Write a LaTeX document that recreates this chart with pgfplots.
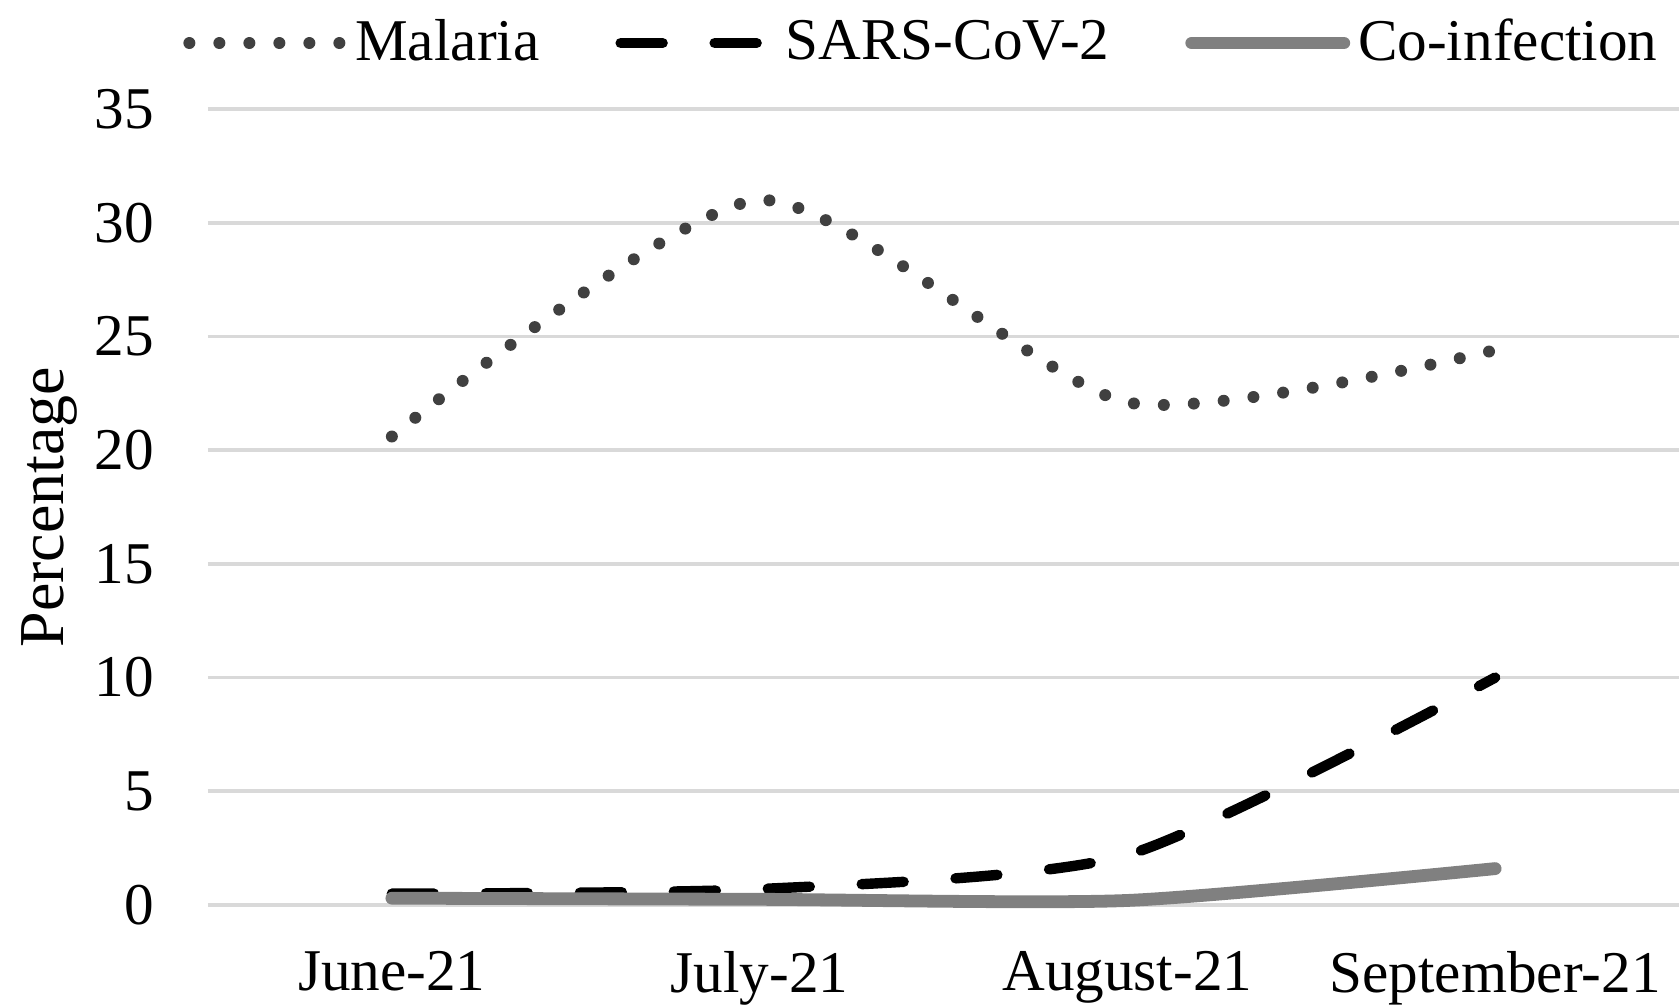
\documentclass[border=0pt]{standalone}
\usepackage{fontspec}
\setmainfont{Liberation Serif}
\usepackage{pgfplots}
\pgfplotsset{compat=1.18}
\definecolor{malcol}{RGB}{64,64,64}
\definecolor{cocol}{RGB}{128,128,128}
\definecolor{gridcol}{RGB}{217,217,217}
\begin{document}
\begin{tikzpicture}
\useasboundingbox (-52pt,-25pt) rectangle (367.75pt,226.25pt);
\begin{axis}[
 at={(0,0)}, anchor=south west,
 scale only axis, width=367.75pt, height=199pt,
 xmin=-0.5, xmax=3.5, ymin=0, ymax=35,
 xtick={0,1,2,3}, xticklabels={June-21,July-21,August-21,September-21},
 ytick={0,5,...,35},
 axis line style={draw=none},
 major tick length=0pt,
 ymajorgrids, grid style={gridcol, line width=0.9pt},
 font=\fontsize{14.8}{17}\selectfont,
 /pgf/number format/assume math mode=true,
 yticklabel style={xshift=-10pt},
 xticklabel style={yshift=-8pt},
 ylabel={Percentage},
 ylabel style={font=\fontsize{16}{18}\selectfont, at={(axis description cs:-0.108,0.5)}, anchor=center},
 legend columns=3,
 legend style={draw=none, fill=none, at={(0.487,1)}, anchor=center, yshift=16.5pt,
   font=\fontsize{14.8}{17}\selectfont,
   /tikz/every even column/.append style={column sep=17pt}},
 legend image code/.code={\draw[#1] (0pt,0pt) -- (38pt,0pt);},
 clip=false,
]
\addplot[malcol, line width=3pt, line cap=round, dash pattern=on 0pt off 7.5pt, smooth, tension=0.4] coordinates {(0,20.6)(1,31.0)(2,22.1)(3,24.4)};
\addlegendentry{Malaria}
\addplot[black, line width=2.6pt, line cap=round, dash pattern=on 10.5pt off 13pt, smooth, tension=0.4] coordinates {(0,0.5)(1,0.7)(2,2.2)(3,10.0)};
\addlegendentry{SARS-CoV-2}
\addplot[cocol, line width=3.2pt, line cap=round, smooth, tension=0.4] coordinates {(0,0.3)(1,0.25)(2,0.2)(3,1.6)};
\addlegendentry{Co-infection}
\end{axis}
\end{tikzpicture}
\end{document}
